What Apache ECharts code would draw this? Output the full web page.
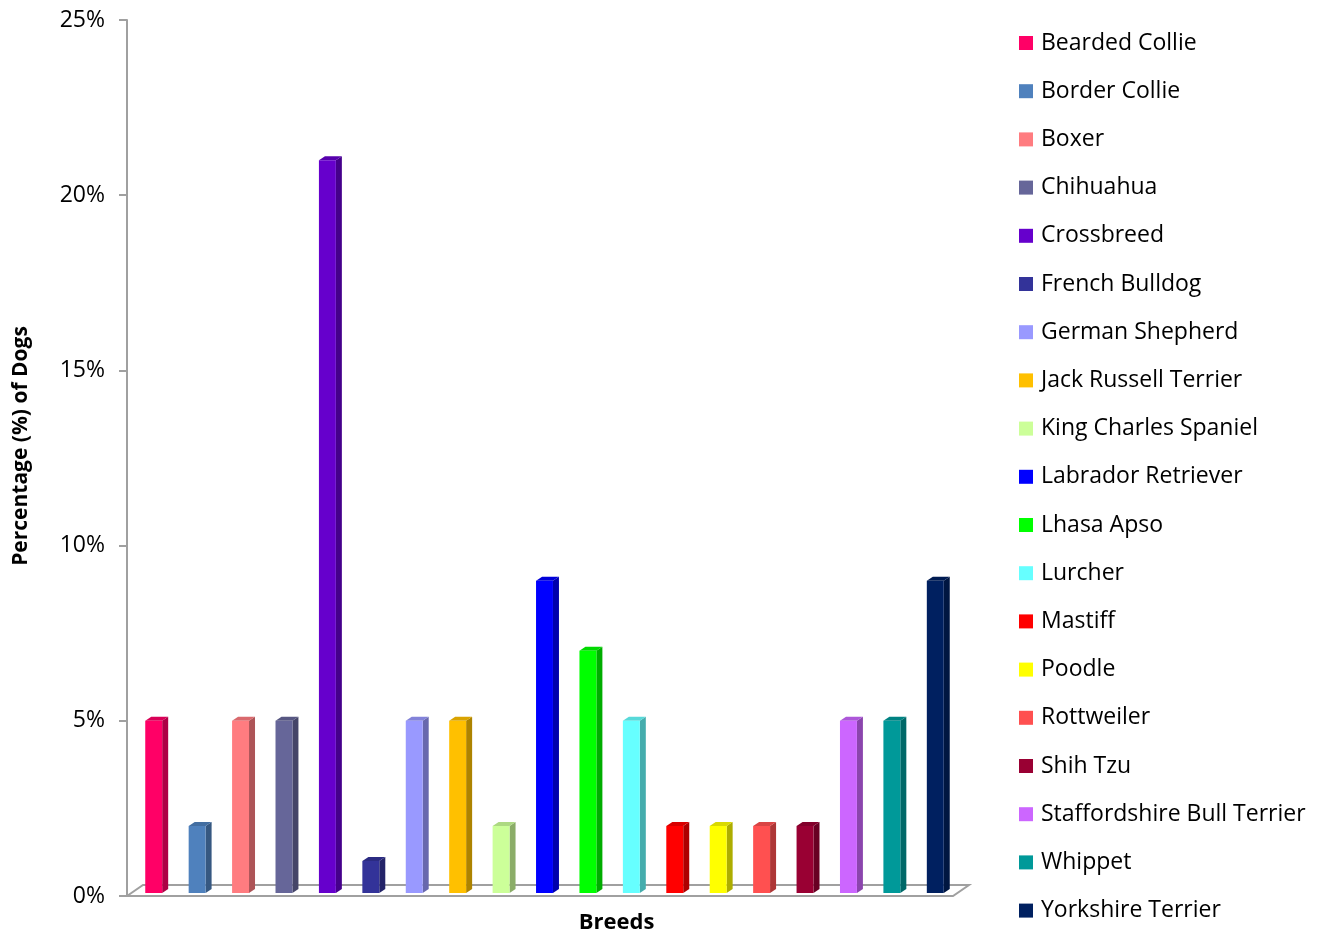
<!DOCTYPE html>
<html>
<head>
<meta charset="utf-8">
<script src="https://cdn.jsdelivr.net/npm/echarts@6/dist/echarts.min.js"></script>
<style>
  html, body { margin: 0; padding: 0; background: #fff; }
  #chart { width: 1324px; height: 934px; }
</style>
</head>
<body>
<div id="chart"></div>
<script>
// breeds and share of dogs (%)
const breeds = [
  'Bearded Collie', 'Border Collie', 'Boxer', 'Chihuahua', 'Crossbreed',
  'French Bulldog', 'German Shepherd', 'Jack Russell Terrier', 'King Charles Spaniel',
  'Labrador Retriever', 'Lhasa Apso', 'Lurcher', 'Mastiff', 'Poodle', 'Rottweiler',
  'Shih Tzu', 'Staffordshire Bull Terrier', 'Whippet', 'Yorkshire Terrier'
];
const percentages = [5, 2, 5, 5, 21, 1, 5, 5, 2, 9, 7, 5, 2, 2, 2, 2, 5, 5, 9];
const colors = [
  '#FF0066', '#4F81BD', '#FF7C80', '#666699', '#6600CC',
  '#333399', '#9999FF', '#FFC000', '#CCFF99', '#0000FF',
  '#00FF00', '#66FFFF', '#FF0000', '#FFFF00', '#FF5050',
  '#990033', '#CC66FF', '#009999', '#002060'
];
const yTicks = [0, 5, 10, 15, 20, 25];

const FONT = '"Open Sans", sans-serif';
const AXIS_GREY = '#a0a0a0';

// darken a hex colour by factor f (0..1)
function shade(hex, f) {
  const n = parseInt(hex.slice(1), 16);
  const r = Math.round(((n >> 16) & 255) * f);
  const g = Math.round(((n >> 8) & 255) * f);
  const b = Math.round((n & 255) * f);
  return 'rgb(' + r + ',' + g + ',' + b + ')';
}

// a 3D looking column: front face, right side and top
function renderBar(params, api) {
  const idx = api.value(0);
  const top = api.coord([idx, api.value(1)]);
  const base = api.coord([idx, 0]);
  const band = api.size([1, 0])[0];
  const w = band * 0.39;
  const dx = 6, dy = -4;
  const x0 = top[0] - w / 2 - 2;
  const x1 = x0 + w;
  const yb = base[1] - 3;
  const yt = top[1];
  const color = api.visual('color');
  return {
    type: 'group',
    children: [
      {
        type: 'polygon',
        shape: { points: [[x1, yb], [x1 + dx, yb + dy], [x1 + dx, yt + dy], [x1, yt]] },
        style: { fill: shade(color, 0.68) }
      },
      {
        type: 'polygon',
        shape: { points: [[x0, yt], [x1, yt], [x1 + dx, yt + dy], [x0 + dx, yt + dy]] },
        style: { fill: shade(color, 0.85) }
      },
      {
        type: 'rect',
        shape: { x: x0, y: yt, width: w, height: yb - yt },
        style: { fill: color }
      }
    ]
  };
}

// floor of the 3D plot area
function renderFloor(params, api) {
  const cs = params.coordSys;
  const y = api.coord([0, 0])[1];
  const fx0 = cs.x - 7, fx1 = cs.x + cs.width - 6;
  const ddx = 16, ddy = -11;
  return {
    type: 'polyline',
    shape: {
      points: [[fx0, y], [fx1, y], [fx1 + ddx, y + ddy], [fx0 + ddx, y + ddy], [fx0, y]]
    },
    style: { stroke: AXIS_GREY, lineWidth: 2, fill: null }
  };
}

const series = [{
  name: '__floor',
  type: 'custom',
  renderItem: renderFloor,
  data: [[0, 0]],
  silent: true,
  z: 1
}];
breeds.forEach(function (b, i) {
  series.push({
    name: b,
    type: 'custom',
    renderItem: renderBar,
    itemStyle: { color: colors[i] },
    encode: { x: 0, y: 1 },
    data: [[i, percentages[i]]],
    z: 2
  });
});

const chart = echarts.init(document.getElementById('chart'));
chart.setOption({
  animation: false,
  backgroundColor: '#fff',
  textStyle: { fontFamily: FONT },
  grid: { left: 134, width: 825, top: 20, bottom: 38, outerBoundsMode: 'none', containLabel: false },
  legend: {
    data: breeds,
    orient: 'vertical',
    left: 1019,
    top: 31,
    padding: 0,
    icon: 'rect',
    itemWidth: 14,
    itemHeight: 14,
    itemGap: 24.2,
    textStyle: { fontFamily: FONT, fontSize: 23, lineHeight: 24, color: '#000', padding: [0, 0, 0, 3] },
    selectedMode: false
  },
  xAxis: {
    type: 'category',
    data: breeds,
    boundaryGap: true,
    axisLine: { show: false },
    axisTick: { show: false },
    axisLabel: { show: false },
    name: 'Breeds',
    nameLocation: 'middle',
    nameGap: 16,
    nameTextStyle: {
      fontFamily: FONT, fontSize: 22, fontWeight: 'bold', color: '#000',
      padding: [0, 0, 0, 140]
    }
  },
  yAxis: {
    type: 'value',
    min: yTicks[0],
    max: yTicks[yTicks.length - 1],
    interval: 5,
    offset: 7,
    axisLine: { show: true, lineStyle: { color: AXIS_GREY, width: 2 } },
    axisTick: { show: true, length: 8, lineStyle: { color: AXIS_GREY, width: 2 } },
    splitLine: { show: false },
    axisLabel: {
      formatter: '{value}%',
      margin: 22,
      fontFamily: FONT,
      fontSize: 23,
      color: '#000'
    },
    name: 'Percentage (%) of Dogs',
    nameLocation: 'middle',
    nameGap: 95,
    nameTextStyle: {
      fontFamily: FONT, fontSize: 21, fontWeight: 'bold', color: '#000',
      padding: [0, 0, 0, 24]
    }
  },
  series: series
});
</script>
</body>
</html>
